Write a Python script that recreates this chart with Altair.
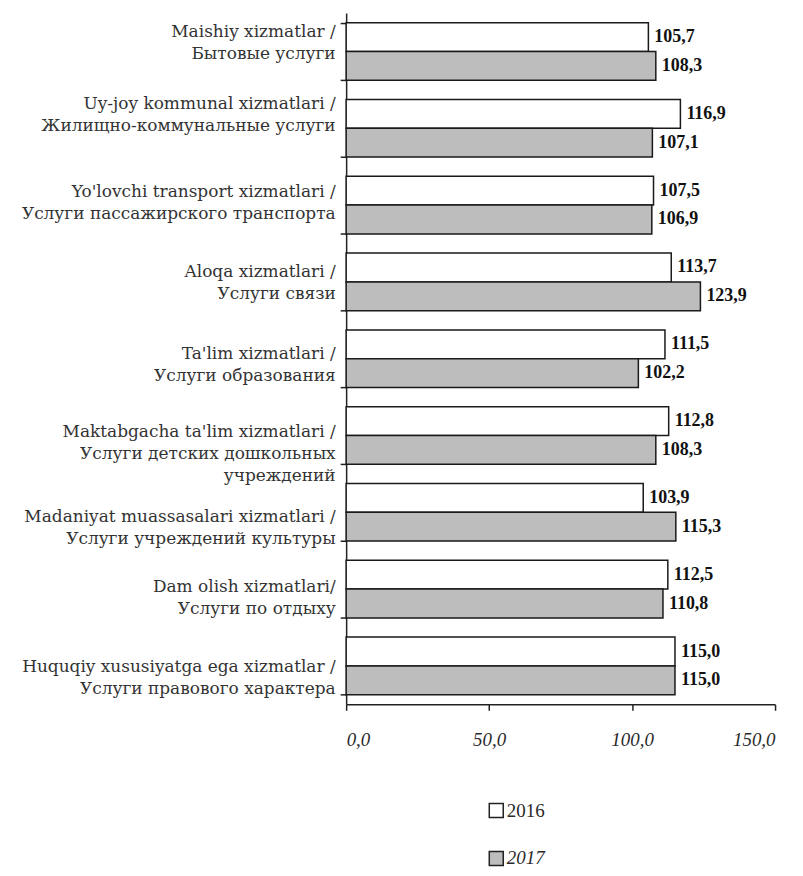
import json
import altair as alt
import pandas as pd

categories = [
    "Maishiy xizmatlar /|Бытовые услуги",
    "Uy-joy kommunal xizmatlari /|Жилищно-коммунальные услуги",
    "Yo'lovchi transport xizmatlari /|Услуги пассажирского транспорта",
    "Aloqa xizmatlari /|Услуги связи",
    "Ta'lim xizmatlari /|Услуги образования",
    "Maktabgacha ta'lim xizmatlari /|Услуги детских дошкольных|учреждений",
    "Madaniyat muassasalari xizmatlari /|Услуги учреждений культуры",
    "Dam olish xizmatlari/|Услуги по отдыху",
    "Huquqiy xususiyatga ega xizmatlar /|Услуги правового характера",
]
years = ["2016", "2017"]
values_2016 = [105.7, 116.9, 107.5, 113.7, 111.5, 112.8, 103.9, 112.5, 115.0]
values_2017 = [108.3, 107.1, 106.9, 123.9, 102.2, 108.3, 115.3, 110.8, 115.0]
x_ticks = [0, 50, 100, 150]

# layout: vertical nudges of the category labels (pixels), as in the scan
label_nudge = [-20, -25, -14, -10, -5, -4, 4, -3, 1]

rows = []
for c, a, b in zip(categories, values_2016, values_2017):
    rows.append({"cat": c, "year": years[0], "value": a,
                 "label": f"{a:.1f}".replace(".", ",")})
    rows.append({"cat": c, "year": years[1], "value": b,
                 "label": f"{b:.1f}".replace(".", ",")})
df = pd.DataFrame(rows)

FONT = "Liberation Serif"
LABEL_FONT = "DejaVu Serif"

offset_cond = [
    {"test": f"datum.value === {json.dumps(c)}", "value": n}
    for c, n in zip(categories, label_nudge)
]

y_enc = alt.Y(
    "cat:N", sort=categories, title=None,
    scale=alt.Scale(paddingInner=0.25, paddingOuter=0.125),
    axis=alt.Axis(
        labelExpr="split(datum.label, '|')",
        labelFont=LABEL_FONT, labelFontSize=17, labelColor="#333333",
        labelLineHeight=22, labelLimit=400, labelPadding=5,
        labelOffset={"condition": offset_cond, "value": 0},
        tickBand="extent", tickSize=6, tickColor="#222", tickWidth=1.5,
        domainColor="#222", domainWidth=1.5,
    ),
)
x_enc = alt.X(
    "value:Q", title=None,
    scale=alt.Scale(domain=[0, 150], nice=False),
    axis=alt.Axis(
        values=x_ticks,
        labelExpr="replace(format(datum.value, '.1f'), '.', ',')",
        labelFont=FONT, labelFontSize=19, labelFontStyle="italic",
        labelColor="#2a2a2a", labelPadding=20,
        tickSize=6, tickColor="#222", tickWidth=1.5,
        domainColor="#222", domainWidth=1.5, grid=False,
    ),
)
yoff = alt.YOffset("year:N", sort=years,
                   scale=alt.Scale(paddingInner=0, paddingOuter=0))

bars = alt.Chart(df).mark_bar(stroke="#1a1a1a", strokeWidth=1.5).encode(
    y=y_enc, x=x_enc, yOffset=yoff,
    color=alt.Color(
        "year:N", sort=years,
        scale=alt.Scale(domain=years, range=["#ffffff", "#bdbdbd"]),
        legend=alt.Legend(
            title=None, orient="none", legendX=141, legendY=790,
            direction="vertical", symbolType="square", symbolSize=196,
            symbolStrokeColor="#222", symbolStrokeWidth=1.5,
            labelFont=FONT, labelFontSize=19, labelColor="#2a2a2a",
            labelFontStyle=alt.ExprRef(
                "datum.label === '2017' ? 'italic' : 'normal'"),
            rowPadding=27, labelOffset=1,
        ),
    ),
)

texts = alt.Chart(df).mark_text(
    align="left", baseline="middle", dx=6, font=FONT,
    fontSize=18, fontWeight="bold", color="#111",
).encode(y=y_enc, x=x_enc, yOffset=yoff, text="label:N")

chart = (bars + texts).properties(
    width=430, height=693,
    autosize=alt.AutoSizeParams(type="none"),
    padding={"left": 339, "top": 4, "right": 20, "bottom": 163},
).configure_view(stroke=None)

chart.save("out.html", embed_options={"renderer": "svg", "actions": False})
